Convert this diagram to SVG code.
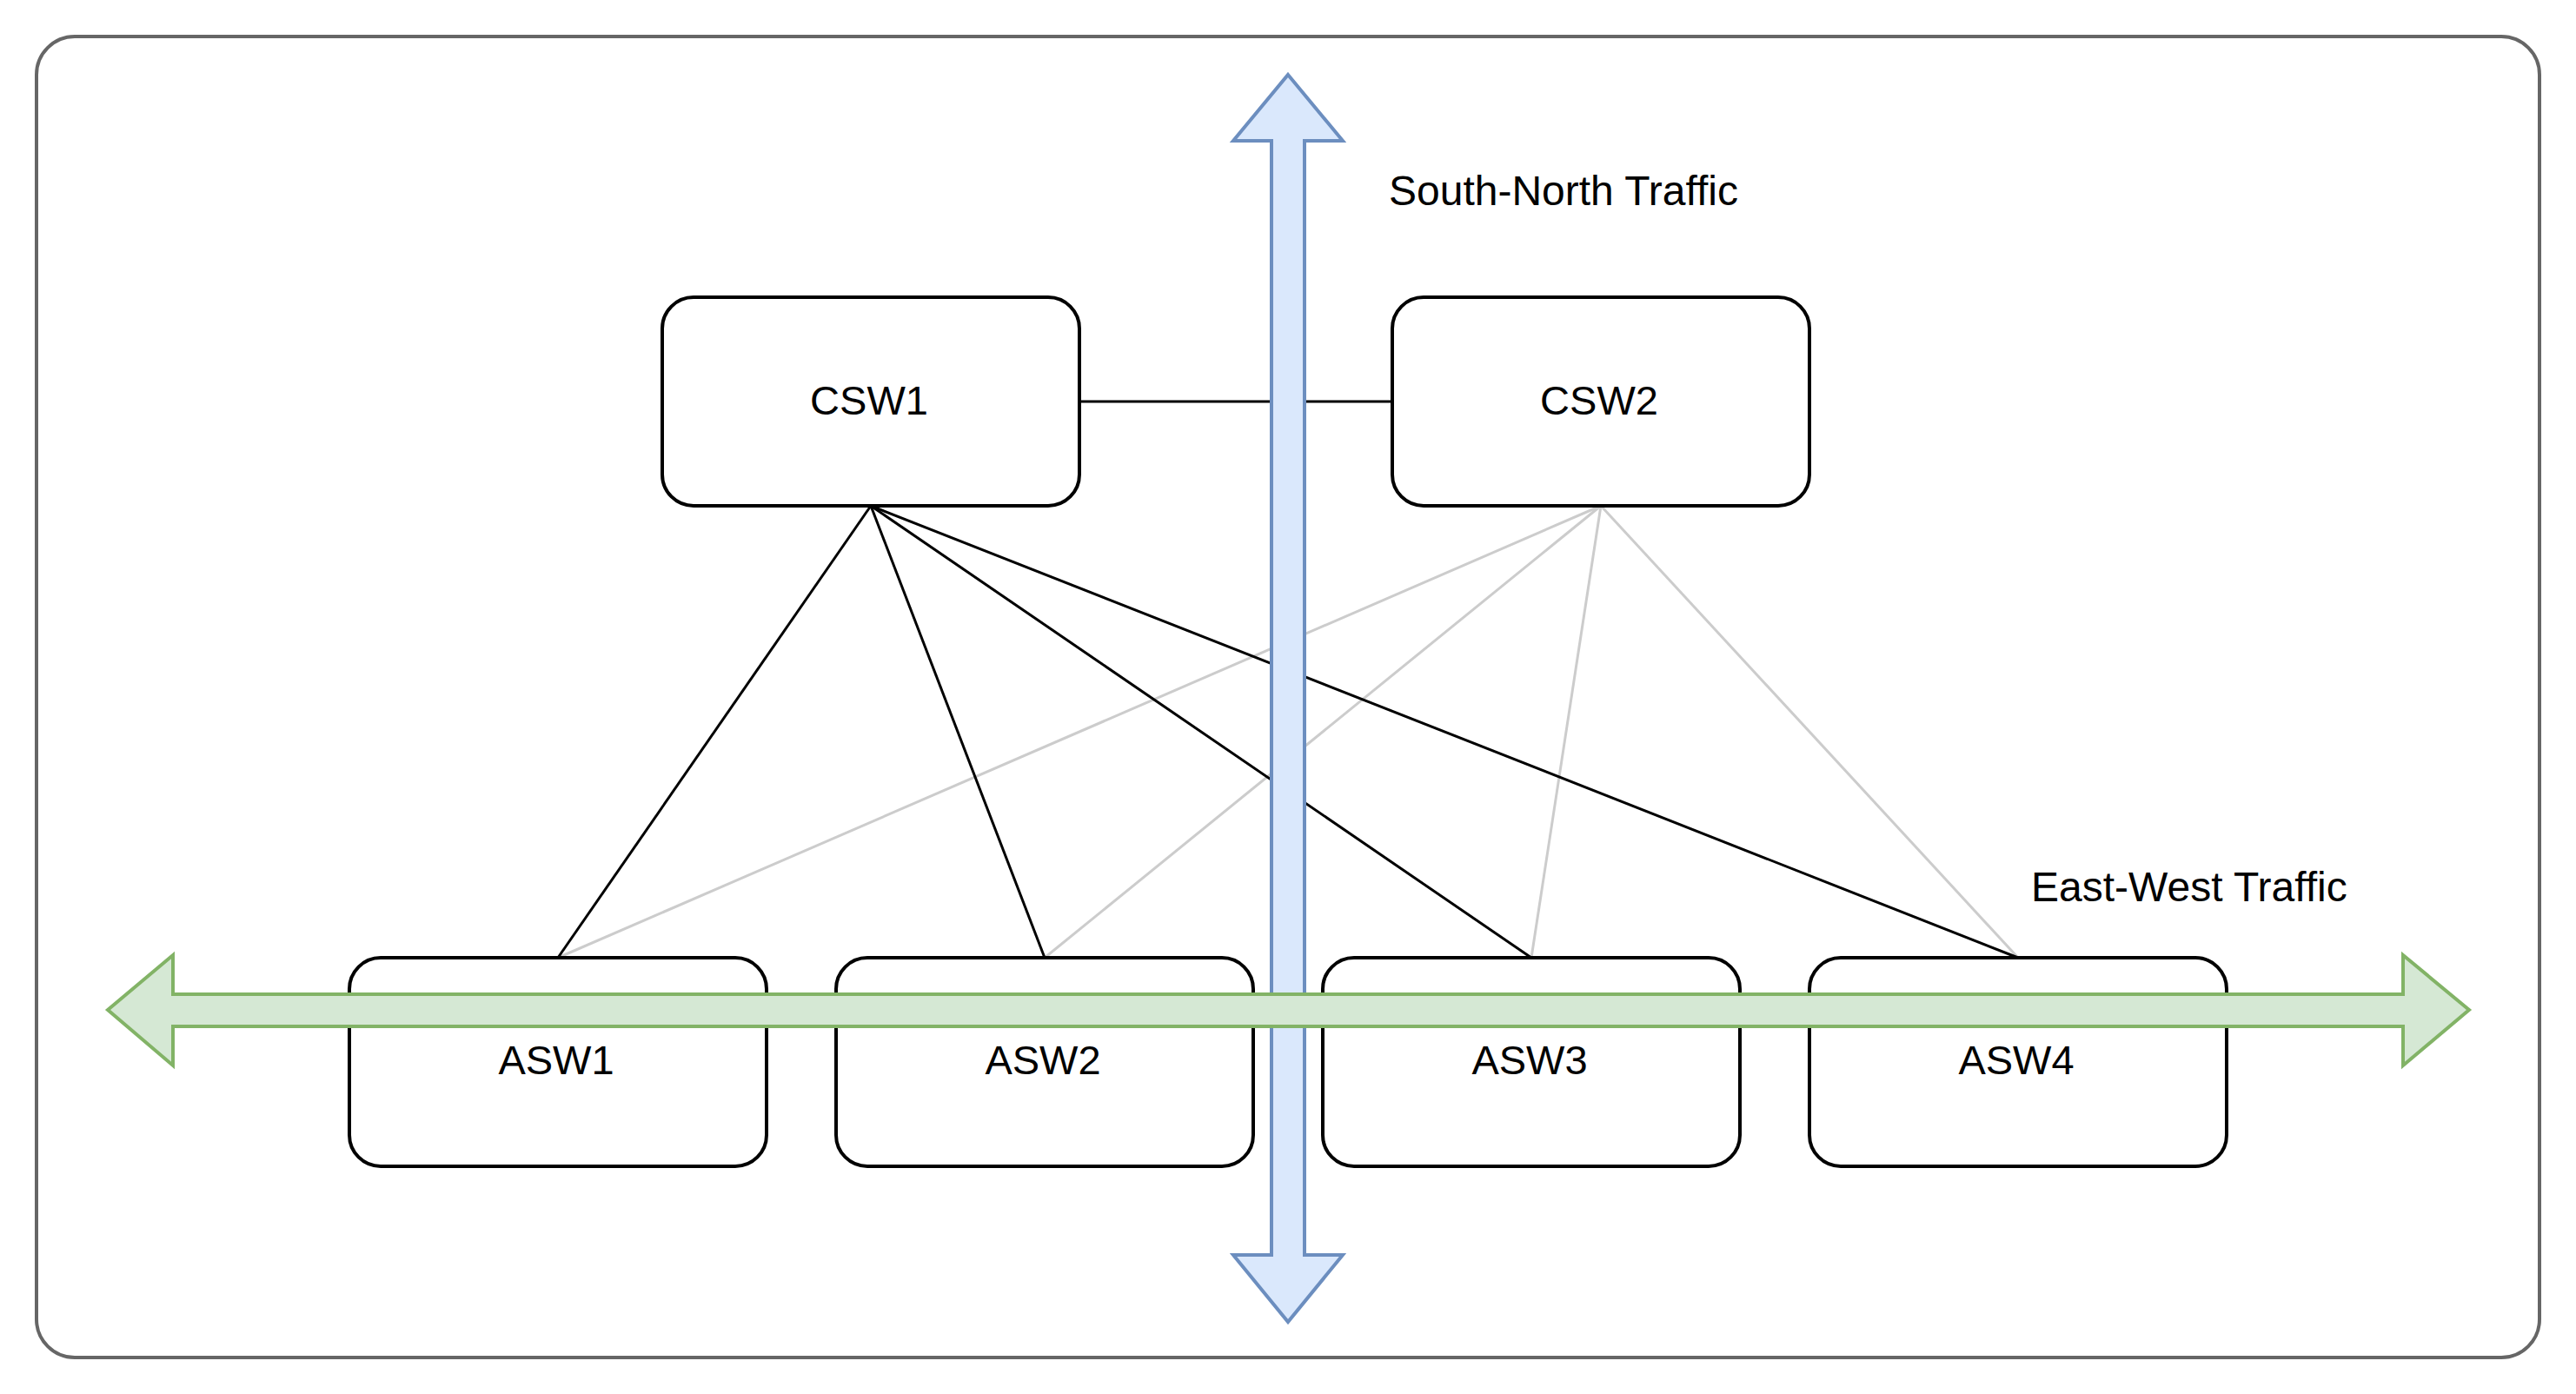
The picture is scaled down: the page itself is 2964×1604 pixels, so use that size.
<svg xmlns="http://www.w3.org/2000/svg" width="2964" height="1604" viewBox="0 0 2964 1604">
<style>
.node rect{fill:#fff;stroke:#000;stroke-width:4}
.lbl{font-family:"Liberation Sans",Arial,Helvetica,sans-serif;font-size:47px;fill:#000}
.big{font-size:48px}
.c{text-anchor:middle;dominant-baseline:central}
.blk{stroke:#000;stroke-width:3;fill:none}
.gry{stroke:#cccccc;stroke-width:3;fill:none}
</style>
<rect id="frame" x="42" y="42" width="2880" height="1520" rx="44" ry="44" fill="#fff" stroke="#666" stroke-width="4"/>
<g id="connectors">
<line class="gry" x1="1842" y1="582" x2="642" y2="1102"/>
<line class="gry" x1="1842" y1="582" x2="1202" y2="1102"/>
<line class="gry" x1="1842" y1="582" x2="1762" y2="1102"/>
<line class="gry" x1="1842" y1="582" x2="2322" y2="1102"/>
<line class="blk" x1="1002" y1="582" x2="642" y2="1102"/>
<line class="blk" x1="1002" y1="582" x2="1202" y2="1102"/>
<line class="blk" x1="1002" y1="582" x2="1762" y2="1102"/>
<line class="blk" x1="1002" y1="582" x2="2322" y2="1102"/>
<line class="blk" x1="1242" y1="462" x2="1602" y2="462"/>
</g>
<g id="CSW1" class="node"><rect x="762" y="342" width="480" height="240" rx="36" ry="36"/><text class="lbl c" x="1000" y="460">CSW1</text></g>
<g id="CSW2" class="node"><rect x="1602" y="342" width="480" height="240" rx="36" ry="36"/><text class="lbl c" x="1840" y="460">CSW2</text></g>
<g id="ASW1" class="node"><rect x="402" y="1102" width="480" height="240" rx="36" ry="36"/><text class="lbl c" x="640" y="1219">ASW1</text></g>
<g id="ASW2" class="node"><rect x="962" y="1102" width="480" height="240" rx="36" ry="36"/><text class="lbl c" x="1200" y="1219">ASW2</text></g>
<g id="ASW3" class="node"><rect x="1522" y="1102" width="480" height="240" rx="36" ry="36"/><text class="lbl c" x="1760" y="1219">ASW3</text></g>
<g id="ASW4" class="node"><rect x="2082" y="1102" width="480" height="240" rx="36" ry="36"/><text class="lbl c" x="2320" y="1219">ASW4</text></g>
<g id="south-north">
<path d="M1482,86 L1545,162 L1501,162 L1501,1444 L1545,1444 L1482,1521 L1419,1444 L1463,1444 L1463,162 L1419,162 Z" fill="#dae8fc" stroke="#6c8ebf" stroke-width="4"/>
<text class="lbl big" x="1598" y="236">South-North Traffic</text>
</g>
<g id="east-west">
<path d="M124,1162 L199,1099 L199,1144 L2765,1144 L2765,1099 L2841,1162 L2765,1226 L2765,1181 L199,1181 L199,1226 Z" fill="#d5e8d4" stroke="#82b366" stroke-width="4"/>
<text class="lbl big" x="2337" y="1037">East-West Traffic</text>
</g>
</svg>
